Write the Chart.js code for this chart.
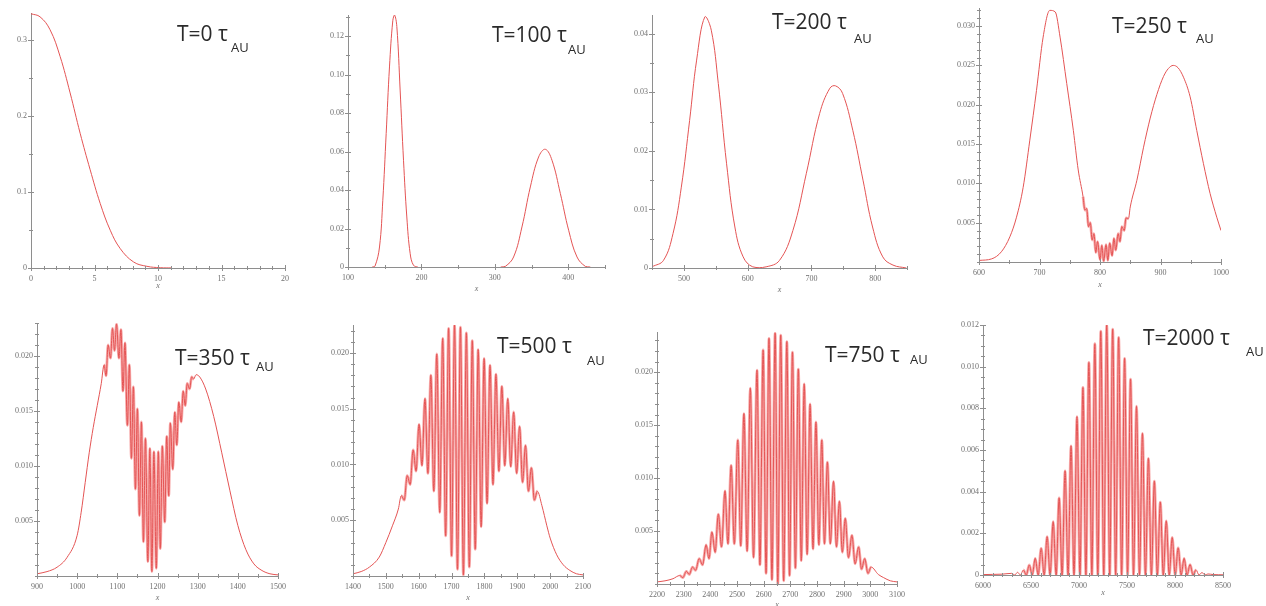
<!DOCTYPE html>
<html>
<head>
<meta charset="utf-8">
<script src="https://cdn.jsdelivr.net/npm/chart.js@4.4.1/dist/chart.umd.min.js"></script>
<style>
  html, body { margin: 0; padding: 0; background: #fff; }
  #page { position: relative; width: 1266px; height: 606px; overflow: hidden; background: #fff; }
  #page canvas { position: absolute; }
  .lbl { position: absolute; font-family: "Open Sans", "Noto Sans", sans-serif; color: #2a2a2a; white-space: pre; line-height: 1; }
</style>
</head>
<body>
<div id="page"></div>
<script>
// ---- probability density |psi(x)|^2 at successive times ----

// T = 0
const p1X = [0, 0.71, 1.5, 2.29, 3.08, 3.87, 4.66, 5.45, 6.24, 7.03, 8.08, 9.13, 10.18, 11.1];
const p1Y = [0.334, 0.330, 0.313, 0.278, 0.230, 0.177, 0.129, 0.0848, 0.0496, 0.0254, 0.0079, 0.0022, 0.0004, 0.0001];

// T = 100
const p2X = [133, 136.8, 142.9, 147.4, 152, 156.5, 161, 163.4, 166.5, 171, 175.6, 180.1, 184.7, 189.2, 195,
             250,
             308, 314.2, 325.5, 336.9, 348.3, 359.6, 368.7, 377.8, 389.2, 400.5, 411.9, 423.3, 430];
const p2Y = [0, 0.0005, 0.0104, 0.0347, 0.0694, 0.104, 0.128, 0.131, 0.125, 0.092, 0.0555, 0.026, 0.0069, 0.0009, 0,
             null,
             0, 0.0003, 0.0052, 0.0208, 0.0416, 0.0572, 0.0612, 0.0555, 0.0382, 0.0191, 0.0052, 0.0003, 0];

// T = 200
const p3X = [450, 468, 483, 496, 509, 520, 533, 543, 554, 567, 580, 593, 608, 629, 650, 671, 692, 713, 729, 738,
             749, 765, 781, 796, 812, 828, 849];
const p3Y = [0.0002, 0.0013, 0.0059, 0.0138, 0.0252, 0.0355, 0.0429, 0.0406, 0.0315, 0.0178, 0.0070, 0.0019, 0.0002,
             0.0002, 0.0013, 0.0064, 0.0161, 0.0264, 0.0307, 0.0311, 0.0298, 0.0235, 0.0150, 0.0070, 0.0019, 0.0005, 0];

// T = 250
const p4X = [600, 621, 637, 651, 662, 673, 684, 695, 706, 717, 726, 734, 745, 756, 764, 772, 775, 778, 781, 784,
             787, 790, 793, 796, 800, 803, 806, 810, 813, 816, 820, 823, 826, 830, 833, 836, 840, 843, 847, 850,
             861, 872, 883, 894, 905, 913, 921, 929, 938, 949, 960, 971, 982, 993, 1000];
const p4Y = [0.0002, 0.0004, 0.0013, 0.0032, 0.0057, 0.0095, 0.0155, 0.0218, 0.0286, 0.0320, 0.0318, 0.0286, 0.0227,
             0.0167, 0.0117, 0.0083, 0.0066, 0.0068, 0.0045, 0.0050, 0.0028, 0.0036, 0.0012, 0.0026, 0.0003, 0.0021,
             0.0001, 0.0022, 0.0002, 0.0024, 0.0008, 0.0030, 0.0015, 0.0036, 0.0026, 0.0045, 0.0040, 0.0056, 0.0055,
             0.0070, 0.0104, 0.0146, 0.0183, 0.0213, 0.0236, 0.0246, 0.0250, 0.0247, 0.0235, 0.0210, 0.0167, 0.0125,
             0.0087, 0.0057, 0.0040];

// T = 350
const p5X = [900, 925, 950, 975, 1000, 1010, 1020, 1030, 1040, 1050, 1060,
             1067, 1072, 1077, 1083, 1088, 1093, 1098, 1104, 1109, 1114, 1119, 1125, 1130, 1135, 1140, 1145,
             1150, 1155, 1160, 1165, 1170, 1176, 1181, 1186, 1191, 1197, 1202, 1207, 1212, 1218, 1223, 1228,
             1232, 1238, 1243, 1248, 1253, 1259, 1264, 1269, 1274, 1280, 1285, 1290,
             1296, 1305, 1320, 1340, 1360, 1380, 1400, 1420, 1440, 1460, 1480, 1500];
const p5Y = [0.0002, 0.0004, 0.0008, 0.0017, 0.0037, 0.0058, 0.0085, 0.0112, 0.0135, 0.0155, 0.0175,
             0.0192, 0.0182, 0.0210, 0.0198, 0.0225, 0.0205, 0.0229, 0.0198, 0.0224, 0.0168, 0.0212, 0.0137,
             0.0192, 0.0107, 0.0172, 0.0079, 0.0152, 0.0055, 0.0140, 0.0031, 0.0125, 0.0013, 0.0116, 0.0004,
             0.0113, 0.0007, 0.0113, 0.0025, 0.0118, 0.0049, 0.0127, 0.0073, 0.0139, 0.0097, 0.0149, 0.0119,
             0.0158, 0.0140, 0.0168, 0.0155, 0.0175, 0.0170, 0.0181, 0.0179,
             0.0183, 0.0181, 0.0170, 0.0145, 0.0112, 0.0078, 0.0046, 0.0024, 0.0011, 0.0005, 0.0002, 0.0001];

// T = 500
const p6X = [1400, 1425, 1450, 1480, 1500, 1520, 1538,
             1547, 1556, 1565, 1574, 1583, 1592, 1601, 1610, 1619, 1628, 1637, 1646, 1655, 1664, 1673, 1682,
             1691, 1700, 1709, 1718, 1727, 1736, 1745, 1754, 1763, 1772, 1781, 1790, 1799, 1808, 1817, 1826,
             1835, 1844, 1853, 1862, 1871, 1880, 1889, 1898, 1907, 1916, 1925, 1934, 1943, 1952, 1961,
             1975, 1990, 2000, 2020, 2040, 2060, 2080, 2100];
const p6Y = [0.0002, 0.0004, 0.0008, 0.0017, 0.0030, 0.0045, 0.0060,
             0.0072, 0.0068, 0.0090, 0.0082, 0.0113, 0.0094, 0.0136, 0.0099, 0.0159, 0.0092, 0.0180, 0.0076,
             0.0199, 0.0057, 0.0213, 0.0036, 0.0222, 0.0018, 0.0225, 0.0006, 0.0223, 0.0001, 0.0218, 0.0008,
             0.0211, 0.0024, 0.0203, 0.0044, 0.0195, 0.0065, 0.0189, 0.0082, 0.0181, 0.0094, 0.0170, 0.0099,
             0.0159, 0.0098, 0.0147, 0.0092, 0.0134, 0.0084, 0.0117, 0.0076, 0.0097, 0.0068, 0.0076,
             0.0063, 0.0045, 0.0034, 0.0019, 0.0010, 0.0005, 0.0002, 0.0001];

// T = 750
const p7X = [2200, 2230, 2260,
             2285, 2297, 2310, 2321, 2333, 2345, 2358, 2371, 2384, 2395, 2406, 2418, 2430, 2442, 2455, 2466,
             2478, 2490, 2503, 2514, 2526, 2538, 2550, 2562, 2575, 2586, 2598, 2609, 2620, 2631, 2643, 2653,
             2664, 2675, 2687, 2697, 2708, 2719, 2730, 2741, 2752, 2763, 2774, 2785, 2796, 2807, 2818, 2828,
             2839, 2850, 2862, 2873, 2884, 2895, 2906, 2918, 2931, 2943, 2956, 2967, 2979, 2991, 3003,
             3030, 3050, 3075, 3100];
const p7Y = [0.0002, 0.0003, 0.0005,
             0.0008, 0.0006, 0.0012, 0.0009, 0.0016, 0.0013, 0.0024, 0.0018, 0.0037, 0.0024, 0.0049, 0.0030,
             0.0066, 0.0035, 0.0088, 0.0038, 0.0112, 0.0038, 0.0136, 0.0036, 0.0161, 0.0031, 0.0185, 0.0025,
             0.0202, 0.0018, 0.0221, 0.0010, 0.0232, 0.0004, 0.0237, 0.0000, 0.0235, 0.0003, 0.0229, 0.0008,
             0.0219, 0.0015, 0.0203, 0.0022, 0.0189, 0.0028, 0.0170, 0.0033, 0.0153, 0.0037, 0.0136, 0.0038,
             0.0115, 0.0038, 0.0097, 0.0035, 0.0078, 0.0030, 0.0062, 0.0025, 0.0046, 0.0019, 0.0035, 0.0014,
             0.0024, 0.0010, 0.0016,
             0.0009, 0.0006, 0.0003, 0.0002];

// T = 2000
const p8X = [6000, 6100, 6200, 6300, 6330, 6360, 6390,
             6420, 6451, 6482, 6513, 6544, 6575, 6606, 6637, 6668, 6699, 6731, 6762, 6793, 6824, 6855, 6886,
             6917, 6948, 6979, 7010, 7041, 7072, 7103, 7134, 7165, 7196, 7227, 7258, 7289, 7320, 7351, 7382,
             7413, 7444, 7475, 7506, 7537, 7568, 7599, 7630, 7661, 7692, 7723, 7754, 7785, 7816, 7847, 7878,
             7909, 7940, 7971, 8002, 8033, 8064, 8095, 8126, 8157, 8188, 8219,
             8250, 8281, 8312, 8343, 8400, 8500];
const p8Y = [0.00002, 0.00003, 0.00004, 0.00008, 0, 0.00013, 0,
             0.00024, 0, 0.00048, 0, 0.0008, 0, 0.00128, 0, 0.00184, 0, 0.00256, 0, 0.0037, 0, 0.0050, 0,
             0.0062, 0, 0.0076, 0, 0.0090, 0, 0.0102, 0, 0.0111, 0, 0.0117, 0, 0.0120, 0, 0.0118, 0,
             0.0114, 0, 0.0104, 0, 0.0094, 0, 0.0081, 0, 0.0068, 0, 0.0056, 0, 0.0045, 0, 0.0035, 0,
             0.0026, 0, 0.0018, 0, 0.0013, 0, 0.0008, 0, 0.0005, 0, 0.00025,
             0, 0.00012, 0, 0.00005, 0.00002, 0.00001];

// tick labels
const p1XTicks = ['0', '5', '10', '15', '20'];
const p1YTicks = ['0', '0.1', '0.2', '0.3'];
const p2XTicks = ['100', '200', '300', '400'];
const p2YTicks = ['0', '0.02', '0.04', '0.06', '0.08', '0.10', '0.12'];
const p3XTicks = ['500', '600', '700', '800'];
const p3YTicks = ['0', '0.01', '0.02', '0.03', '0.04'];
const p4XTicks = ['600', '700', '800', '900', '1000'];
const p4YTicks = ['0.005', '0.010', '0.015', '0.020', '0.025', '0.030'];
const p5XTicks = ['900', '1000', '1100', '1200', '1300', '1400', '1500'];
const p5YTicks = ['0.005', '0.010', '0.015', '0.020'];
const p6XTicks = ['1400', '1500', '1600', '1700', '1800', '1900', '2000', '2100'];
const p6YTicks = ['0.005', '0.010', '0.015', '0.020'];
const p7XTicks = ['2200', '2300', '2400', '2500', '2600', '2700', '2800', '2900', '3000', '3100'];
const p7YTicks = ['0.005', '0.010', '0.015', '0.020'];
const p8XTicks = ['6000', '6500', '7000', '7500', '8000', '8500'];
const p8YTicks = ['0', '0.002', '0.004', '0.006', '0.008', '0.010', '0.012'];

// panel titles
const titles = ['T=0 τ', 'T=100 τ', 'T=200 τ', 'T=250 τ', 'T=350 τ', 'T=500 τ', 'T=750 τ', 'T=2000 τ'];
const subscript = 'AU';

// ---- layout: plot box [left, top, right, bottom] in page pixels ----
// smooth: bezier curve for the plain Gaussians; band: x-span where the fringes are dense
const panels = [
  { xs: p1X, ys: p1Y, xr: [0, 20],      yr: [0, 0.335],  xs1: 1,   ys1: 0.05,   xl: p1XTicks, yl: p1YTicks, box: [31, 13, 285, 268],   xt: 18, tp: [177, 27],  ap: [231, 43],  smooth: true },
  { xs: p2X, ys: p2Y, xr: [100, 450],   yr: [0, 0.131],  xs1: 50,  ys1: 0.01,   xl: p2XTicks, yl: p2YTicks, box: [348, 15, 605, 267],  xt: 22, tp: [492, 28],  ap: [568, 45],  smooth: true },
  { xs: p3X, ys: p3Y, xr: [450, 850],   yr: [0, 0.0432], xs1: 50,  ys1: 0.005,  xl: p3XTicks, yl: p3YTicks, box: [652, 15, 907, 268],  xt: 22, tp: [772, 15],  ap: [854, 34],  smooth: true },
  { xs: p4X, ys: p4Y, xr: [600, 1000],  yr: [0, 0.0323], xs1: 50,  ys1: 0.001,  xl: p4XTicks, yl: p4YTicks, box: [979, 8, 1221, 262],  xt: 23, tp: [1112, 19], ap: [1196, 34], band: [772, 848] },
  { xs: p5X, ys: p5Y, xr: [900, 1500],  yr: [0, 0.023],  xs1: 50,  ys1: 0.001,  xl: p5XTicks, yl: p5YTicks, box: [37, 323, 278, 576],  xt: 22, tp: [175, 351], ap: [256, 362], band: [1062, 1292] },
  { xs: p6X, ys: p6Y, xr: [1400, 2100], yr: [0, 0.0225], xs1: 50,  ys1: 0.001,  xl: p6XTicks, yl: p6YTicks, box: [353, 325, 583, 576], xt: 22, tp: [497, 339], ap: [587, 356], band: [1540, 1965] },
  { xs: p7X, ys: p7Y, xr: [2200, 3100], yr: [0, 0.0238], xs1: 50,  ys1: 0.001,  xl: p7XTicks, yl: p7YTicks, box: [657, 332, 897, 584], xt: 21, tp: [825, 348], ap: [910, 355], band: [2280, 3010] },
  { xs: p8X, ys: p8Y, xr: [6000, 8500], yr: [0, 0.012],  xs1: 100, ys1: 0.0005, xl: p8XTicks, yl: p8YTicks, box: [983, 325, 1223, 575], xt: 18, tp: [1143, 331], ap: [1246, 347], band: [6400, 8240] }
];

const M = { left: 44, top: 8, right: 16, bottom: 30 };
const AXIS = '#8e8e8e';
const TICKTXT = '#707070';
const LINE = 'rgb(228, 84, 84)';
const HALO = 'rgba(247, 165, 165, 0.95)';

function labelFor(list, step) {
  return v => {
    const s = list.find(t => Math.abs(parseFloat(t) - v) < step * 1e-3);
    return s === undefined ? '' : s;
  };
}

// tick marks that straddle the axis lines, long for labelled ticks
const crossTicks = {
  id: 'crossTicks',
  afterDraw(chart) {
    const { ctx, chartArea: a, scales: { x, y } } = chart;
    ctx.save();
    ctx.strokeStyle = AXIS;
    ctx.lineWidth = 1;
    ctx.beginPath();
    for (const t of x.ticks) {
      const px = Math.round(x.getPixelForValue(t.value)) + 0.5;
      const h = t.label ? 3 : 2;
      ctx.moveTo(px, a.bottom - h);
      ctx.lineTo(px, a.bottom + h);
    }
    for (const t of y.ticks) {
      const py = Math.round(y.getPixelForValue(t.value)) + 0.5;
      const w = t.label ? 3 : 2;
      ctx.moveTo(a.left - w, py);
      ctx.lineTo(a.left + w, py);
    }
    ctx.stroke();
    ctx.restore();
  }
};

const page = document.getElementById('page');
const CAP = 0.174; // cap-top offset of Open Sans inside a line-height:1 box

panels.forEach((p, i) => {
  const [l, t, r, b] = p.box;
  const cv = document.createElement('canvas');
  const w = (r - l) + M.left + M.right;
  const h = (b - t) + M.top + M.bottom;
  cv.width = w; cv.height = h;
  cv.style.width = w + 'px'; cv.style.height = h + 'px';
  cv.style.left = (l - M.left) + 'px';
  cv.style.top = (t - M.top) + 'px';
  page.appendChild(cv);

  const tickFont = { family: '"Liberation Serif", "DejaVu Serif", serif', size: 8 };
  const points = p.xs.map((x, k) => ({ x: x, y: p.ys[k] }));
  const curve = p.smooth ? { tension: 0.4, cubicInterpolationMode: 'default' }
                         : { tension: 0.4, cubicInterpolationMode: 'monotone' };

  const datasets = [{
    data: points,
    borderColor: LINE,
    borderWidth: 1,
    pointRadius: 0,
    fill: false,
    spanGaps: false,
    ...curve
  }];

  if (p.band) {
    // soft pink body behind the dense fringes
    const [b0, b1] = p.band;
    datasets.push({
      data: points,
      borderColor: HALO,
      borderWidth: 2.8,
      pointRadius: 0,
      fill: false,
      ...curve,
      segment: {
        borderColor: c => (c.p0.parsed.x >= b0 && c.p1.parsed.x <= b1) ? HALO : 'rgba(0,0,0,0)'
      }
    });
  }

  new Chart(cv, {
    type: 'line',
    data: { datasets },
    options: {
      responsive: false,
      animation: false,
      devicePixelRatio: 1,
      events: [],
      layout: { padding: { left: 0, top: M.top, right: M.right, bottom: 0 } },
      plugins: { legend: { display: false }, tooltip: { enabled: false }, title: { display: false } },
      scales: {
        x: {
          type: 'linear',
          min: p.xr[0], max: p.xr[1],
          grid: { display: false, drawTicks: false, tickLength: 0 },
          border: { display: true, color: AXIS, width: 1 },
          ticks: {
            stepSize: p.xs1, includeBounds: false, autoSkip: false,
            maxRotation: 0, minRotation: 0, padding: 6,
            color: TICKTXT, font: tickFont,
            callback: labelFor(p.xl, p.xs1)
          },
          title: {
            display: true, text: 'x', color: TICKTXT,
            font: { family: '"Liberation Serif", serif', size: 8, style: 'italic' },
            padding: { top: 0, bottom: Math.max(0, M.bottom - p.xt - 4.8) }
          },
          afterFit(s) { s.height = M.bottom; s.paddingLeft = 0; s.paddingRight = 0; }
        },
        y: {
          type: 'linear',
          min: p.yr[0], max: p.yr[1],
          grid: { display: false, drawTicks: false, tickLength: 0 },
          border: { display: true, color: AXIS, width: 1 },
          ticks: {
            stepSize: p.ys1, includeBounds: false, autoSkip: false, padding: 4,
            color: TICKTXT, font: tickFont,
            callback: labelFor(p.yl, p.ys1)
          },
          afterFit(s) { s.width = M.left; s.paddingTop = 0; s.paddingBottom = 0; }
        }
      }
    },
    plugins: [crossTicks]
  });

  const T = document.createElement('div');
  T.className = 'lbl';
  T.style.fontSize = '21px';
  T.style.left = p.tp[0] + 'px';
  T.style.top = (p.tp[1] - CAP * 21) + 'px';
  T.textContent = titles[i];
  page.appendChild(T);

  const A = document.createElement('div');
  A.className = 'lbl';
  A.style.fontSize = '13px';
  A.style.left = p.ap[0] + 'px';
  A.style.top = (p.ap[1] - CAP * 13) + 'px';
  A.textContent = subscript;
  page.appendChild(A);
});
</script>
</body>
</html>
